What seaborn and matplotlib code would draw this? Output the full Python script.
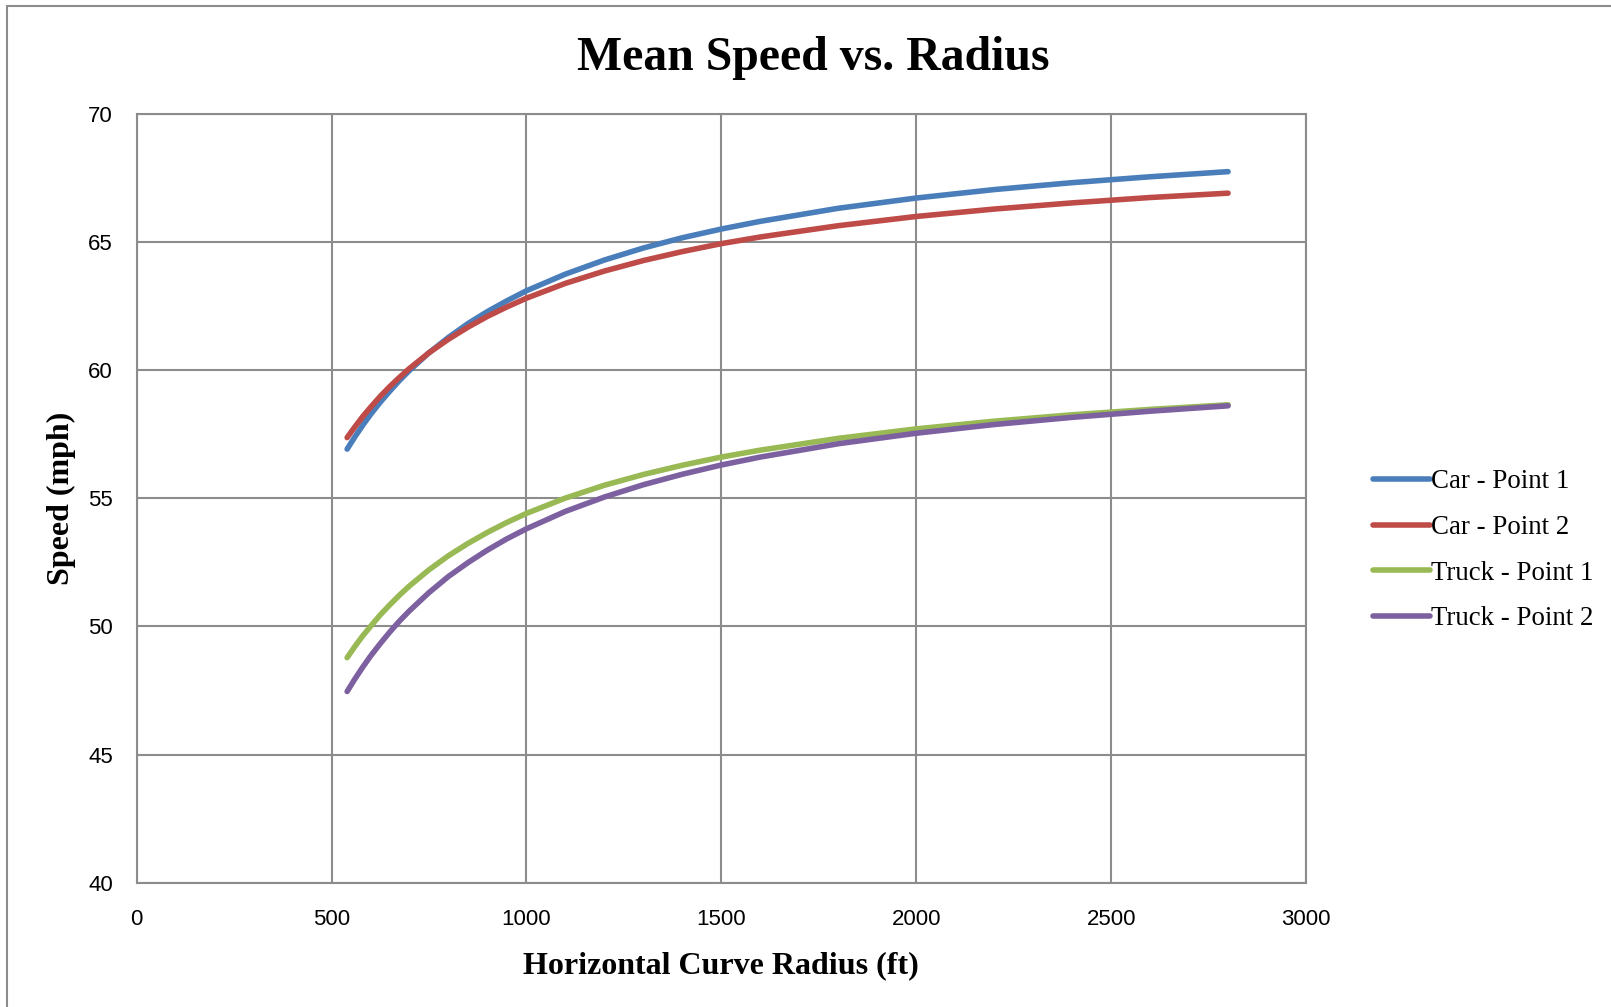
import numpy as np
import pandas as pd
import matplotlib
matplotlib.use("Agg")
import matplotlib.pyplot as plt
import seaborn as sns
from matplotlib.patches import Rectangle

radius = [540, 560, 580, 600, 625, 650, 675, 700, 750, 800, 850, 900, 950, 1000,
          1100, 1200, 1300, 1400, 1500, 1600, 1800, 2000, 2200, 2400, 2600, 2800]
car_point1 = [56.92, 57.40, 57.85, 58.27, 58.75, 59.19, 59.61, 59.99, 60.68, 61.28, 61.82, 62.29, 62.71, 63.10,
              63.75, 64.30, 64.77, 65.17, 65.51, 65.81, 66.32, 66.72, 67.05, 67.32, 67.55, 67.75]
car_point2 = [57.37, 57.79, 58.19, 58.55, 58.98, 59.37, 59.73, 60.07, 60.68, 61.21, 61.68, 62.10, 62.47, 62.81,
              63.39, 63.87, 64.28, 64.63, 64.94, 65.20, 65.64, 66.00, 66.29, 66.53, 66.74, 66.91]
truck_point1 = [48.78, 49.22, 49.63, 50.00, 50.45, 50.85, 51.23, 51.58, 52.21, 52.76, 53.24, 53.67, 54.06, 54.41,
                55.01, 55.51, 55.93, 56.29, 56.61, 56.88, 57.34, 57.71, 58.01, 58.26, 58.47, 58.65]
truck_point2 = [47.46, 47.95, 48.41, 48.84, 49.33, 49.79, 50.22, 50.61, 51.32, 51.95, 52.49, 52.98, 53.42, 53.81,
                54.49, 55.05, 55.53, 55.94, 56.30, 56.61, 57.13, 57.54, 57.88, 58.16, 58.40, 58.61]
series_names = ["Car - Point 1", "Car - Point 2", "Truck - Point 1", "Truck - Point 2"]
colors = ["#4A7EBB", "#BE4B48", "#98B954", "#7D60A0"]
x_ticks = [0, 500, 1000, 1500, 2000, 2500, 3000]
y_ticks = [40, 45, 50, 55, 60, 65, 70]

frames = []
for name, vals in zip(series_names, [car_point1, car_point2, truck_point1, truck_point2]):
    frames.append(pd.DataFrame({"Radius": radius, "Speed": vals, "Series": name}))
df = pd.concat(frames, ignore_index=True)

sns.set_theme(style="white")
plt.rcParams["text.color"] = "black"
plt.rcParams["axes.labelcolor"] = "black"
serif = ["Liberation Serif", "DejaVu Serif"]
sans = ["Liberation Sans", "DejaVu Sans"]

fig = plt.figure(figsize=(16.11, 10.07), dpi=100)
ax = fig.add_axes([0.0848, 0.1235, 0.8107 - 0.0848, 0.8868 - 0.1235])

sns.lineplot(data=df, x="Radius", y="Speed", hue="Series", hue_order=series_names,
             palette=colors, linewidth=4.0, ax=ax, legend=True, sort=True,
             solid_capstyle="round", solid_joinstyle="round")

ax.set_xlim(0, 3000)
ax.set_ylim(40, 70)
ax.set_xticks(x_ticks)
ax.set_yticks(y_ticks)
ax.grid(True, color="#8C8C8C", linewidth=1.5)
ax.set_axisbelow(True)
for s in ax.spines.values():
    s.set_color("#8C8C8C")
    s.set_linewidth(1.5)
ax.tick_params(axis="y", length=0, pad=17, labelsize=16, colors="black")
ax.tick_params(axis="x", length=0, pad=19, labelsize=16, colors="black")
for lab in ax.get_xticklabels() + ax.get_yticklabels():
    lab.set_family(sans)

ax.set_xlabel("Horizontal Curve Radius (ft)", fontsize=23, fontweight="bold", family=serif, labelpad=15)
ax.set_ylabel("Speed (mph)", fontsize=23, fontweight="bold", family=serif, labelpad=9)
fig.text(0.505, 0.942, "Mean Speed vs. Radius", fontsize=34.4, fontweight="bold", family=serif,
         ha="center", va="center", color="black")

ax.get_legend().remove()
handles, labels = ax.get_legend_handles_labels()
for h in handles:
    h.set_linewidth(4)
leg = fig.legend(handles, labels, loc="center left", bbox_to_anchor=(0.8525, 0.4535),
                 frameon=False, prop={"family": serif, "size": 19.4},
                 handlelength=2.1, handletextpad=0.05, labelspacing=0.77, borderpad=0, borderaxespad=0)

fig.add_artist(Rectangle((0.0043, -0.01), 1.1, 0.994 + 0.01, transform=fig.transFigure,
                         fill=False, edgecolor="#8C8C8C", linewidth=1.5))

fig.savefig("out.png", dpi=100)
